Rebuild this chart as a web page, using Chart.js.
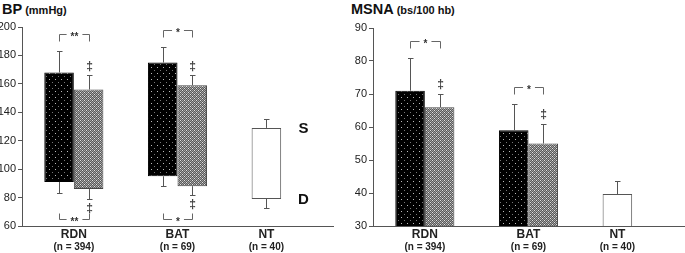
<!DOCTYPE html>
<html>
<head>
<meta charset="utf-8">
<script src="https://cdn.jsdelivr.net/npm/chart.js@4"></script>
<style>
  body { margin: 0; background: #fff; width: 685px; height: 253px; position: relative; overflow: hidden;
         font-family: "Liberation Sans", Arial, sans-serif; }
  canvas { position: absolute; top: 0; }
  .ttl { position: absolute; top: 1px; font-weight: bold; font-size: 14.5px; color: #111; white-space: nowrap; }
  .ttl small { font-size: 11px; margin-left: 3px; }
</style>
</head>
<body>
<div class="ttl" style="left:2px">BP<small>(mmHg)</small></div>
<div class="ttl" style="left:351px">MSNA<small>(bs/100 hb)</small></div>
<canvas id="bp" width="345" height="253" style="left:0"></canvas>
<canvas id="msna" width="345" height="253" style="left:340px"></canvas>
<script>
// groups (NT only has one bar, it sits in the "before" slot)
const groups = ['RDN', 'BAT', 'NT']
const groupN = ['(n = 394)', '(n = 69)', '(n = 40)']

// BP in mmHg, floating bars from diastolic to systolic
const sbpBefore = [168, 175, 129]
const dbpBefore = [91, 95, 79]
const sbpAfter = [156, 159, null]
const dbpAfter = [86, 88, null]
// SD whiskers
const sbpBeforeSd = [15, 11, 6]
const dbpBeforeSd = [8, 7, 6.5]
const sbpAfterSd = [10, 7, null]
const dbpAfterSd = [7, 6, null]

// MSNA in bursts/100 heart beats
const msnaBefore = [71, 59, 39.7]
const msnaAfter = [66, 55, null]
const msnaBeforeSd = [10, 8, 4]
const msnaAfterSd = [4, 6, null]

// significance marks, before vs after (RDN, BAT) and after vs NT
const bpSig = ['**', '*']
const msnaSig = ['*', '*']
const afterVsNT = ['‡', '‡']

Chart.defaults.font.family = '"Liberation Sans", Arial, sans-serif'
Chart.defaults.font.size = 11
Chart.defaults.color = '#222'

function makePattern(size, draw) {
  const c = document.createElement('canvas')
  c.width = size; c.height = size
  const g = c.getContext('2d')
  draw(g)
  return g.createPattern(c, 'repeat')
}
const blackFill = makePattern(6, g => {
  g.fillStyle = '#000'; g.fillRect(0, 0, 6, 6)
  g.fillStyle = '#bbb'; g.fillRect(1, 1, 1, 1)
  g.fillStyle = '#777'; g.fillRect(4, 4, 1, 1)
})
const grayFill = makePattern(4, g => {
  for (let i = 0; i < 4; i++) for (let j = 0; j < 4; j++) {
    g.fillStyle = (i + j) % 2 ? '#5a5a5a' : '#a0a0a0'
    g.fillRect(i, j, 1, 1)
  }
  g.fillStyle = '#e0e0e0'; g.fillRect(0, 0, 1, 1); g.fillRect(2, 2, 1, 1)
})

function whisker(ctx, x, y0, y1) {
  ctx.beginPath()
  ctx.moveTo(x, y0); ctx.lineTo(x, y1)
  ctx.moveTo(x - 2.5, y1); ctx.lineTo(x + 3, y1)
  ctx.stroke()
}

// error bars, significance brackets, group labels
const extras = {
  id: 'extras',
  afterDatasetsDraw(chart, args, opts) {
    const ctx = chart.ctx, y = chart.scales.y, area = chart.chartArea
    const sets = chart.data.datasets
    const m0 = chart.getDatasetMeta(0), m1 = chart.getDatasetMeta(1)
    ctx.save()
    ctx.strokeStyle = '#555'
    ctx.lineWidth = 1
    const tops = [], bottoms = []
    sets.forEach((ds, d) => {
      const meta = chart.getDatasetMeta(d)
      ds.data.forEach((v, i) => {
        if (v == null) return
        const bx = Math.round(meta.data[i].x) + 0.5
        const hi = Array.isArray(v) ? v[1] : v
        const yt = Math.round(y.getPixelForValue(hi + ds.sdHigh[i])) + 0.5
        whisker(ctx, bx, y.getPixelForValue(hi), yt)
        tops[i] = Math.min(tops[i] ?? 999, yt)
        if (Array.isArray(v)) {
          const yb = Math.round(y.getPixelForValue(v[0] - ds.sdLow[i])) + 0.5
          whisker(ctx, bx, y.getPixelForValue(v[0]), yb)
          if (d === 1) bottoms[i] = yb
        }
      })
    })

    // brackets
    ctx.fillStyle = '#333'
    ctx.strokeStyle = '#666'
    ctx.font = 'bold 10px "Liberation Sans", Arial, sans-serif'
    ctx.textAlign = 'center'
    ctx.textBaseline = 'middle'
    const bracket = (x0, x1, yl, ye, txt) => {
      const mid = (x0 + x1) / 2, w = ctx.measureText(txt).width / 2 + 4
      ctx.beginPath()
      ctx.moveTo(x0, ye); ctx.lineTo(x0, yl); ctx.lineTo(mid - w, yl)
      ctx.moveTo(mid + w, yl); ctx.lineTo(x1, yl); ctx.lineTo(x1, ye)
      ctx.stroke()
      ctx.fillText(txt, mid, yl + 3)
    }
    opts.sig.forEach((s, i) => {
      const x0 = Math.round(m0.data[i].x) + 0.5, x1 = Math.round(m1.data[i].x) + 0.5
      const yl = tops[i] - 17
      bracket(x0, x1, yl, yl + 7, s)
      if (opts.bottom) {
        const yb = Math.round(area.bottom) - 6.5
        bracket(x0, x1, yb, yb - 6, s)
      }
    })

    // daggers vs NT
    ctx.font = 'bold 12px "Liberation Sans", Arial, sans-serif'
    ctx.fillStyle = '#444'
    opts.dagger.forEach((s, i) => {
      const x1 = Math.round(m1.data[i].x) + 0.5
      const v = sets[1].data[i]
      const hi = Array.isArray(v) ? v[1] : v
      ctx.fillText(s, x1, y.getPixelForValue(hi + sets[1].sdHigh[i]) - 9)
      if (opts.bottom) ctx.fillText(s, x1, bottoms[i] + 9)
    })

    // S / D beside the NT bar
    if (opts.sd) {
      const nt = m0.data[2], v = sets[0].data[2]
      ctx.font = 'bold 15px "Liberation Sans", Arial, sans-serif'
      ctx.fillStyle = '#111'
      ctx.fillText('S', nt.x + 37, y.getPixelForValue(v[1]) + 1)
      ctx.fillText('D', nt.x + 37, y.getPixelForValue(v[0]) + 1)
    }

    // group labels centred under their bars
    ctx.fillStyle = '#222'
    groups.forEach((g, i) => {
      const xs = [m0, m1].filter((m, d) => sets[d].data[i] != null).map(m => m.data[i].x)
      const cx = xs.reduce((a, b) => a + b, 0) / xs.length
      ctx.font = 'bold 12px "Liberation Sans", Arial, sans-serif'
      ctx.fillText(g, cx, area.bottom + 9)
      ctx.font = 'bold 10px "Liberation Sans", Arial, sans-serif'
      ctx.fillText(groupN[i], cx, area.bottom + 21)
    })
    ctx.restore()
  }
}

function makeChart(id, before, after, beforeHi, beforeLo, afterHi, afterLo, yMin, yMax, step, axisW, padTop, padRight, extraOpts) {
  return new Chart(document.getElementById(id), {
    type: 'bar',
    data: {
      labels: groups,
      datasets: [{
        label: 'before',
        data: before,
        sdHigh: beforeHi, sdLow: beforeLo,
        backgroundColor: groups.map(g => g === 'NT' ? '#fff' : blackFill),
        borderColor: groups.map(g => g === 'NT' ? '#555' : '#000'),
        borderWidth: 1,
        borderSkipped: false
      }, {
        label: 'after',
        data: after,
        sdHigh: afterHi, sdLow: afterLo,
        backgroundColor: grayFill,
        borderColor: '#444',
        borderWidth: 1,
        borderSkipped: false
      }]
    },
    options: {
      responsive: false,
      animation: false,
      devicePixelRatio: 1,
      categoryPercentage: 0.57,
      barPercentage: 1,
      layout: { padding: { top: padTop, right: padRight, left: 0, bottom: 0 } },
      plugins: { legend: { display: false }, tooltip: { enabled: false }, extras: extraOpts },
      scales: {
        x: {
          grid: { display: false },
          border: { color: '#555' },
          ticks: { display: false },
          afterFit: s => { s.height = 27 }
        },
        y: {
          min: yMin, max: yMax,
          grid: { drawOnChartArea: false, tickLength: 4, color: '#555' },
          border: { color: '#555' },
          ticks: { stepSize: step, padding: 2, color: '#222', font: { size: 11 } },
          afterFit: s => { s.width = axisW }
        }
      }
    },
    plugins: [extras]
  })
}

makeChart('bp',
  groups.map((g, i) => [dbpBefore[i], sbpBefore[i]]),
  groups.map((g, i) => sbpAfter[i] == null ? null : [dbpAfter[i], sbpAfter[i]]),
  sbpBeforeSd, dbpBeforeSd, sbpAfterSd, dbpAfterSd,
  60, 200, 20, 22, 27, 12,
  { sig: bpSig, dagger: afterVsNT, bottom: true, sd: true })

makeChart('msna', msnaBefore, msnaAfter,
  msnaBeforeSd, msnaBeforeSd, msnaAfterSd, msnaAfterSd,
  30, 90, 10, 33, 28, 1,
  { sig: msnaSig, dagger: afterVsNT, bottom: false, sd: false })
</script>
</body>
</html>
